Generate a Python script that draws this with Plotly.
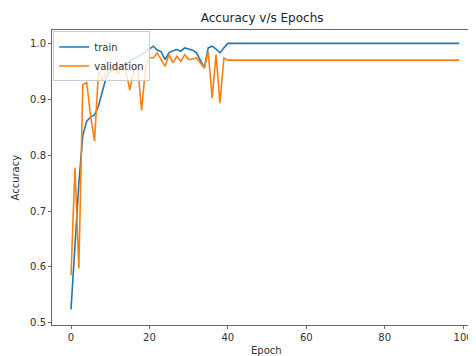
import plotly.graph_objects as go

epochs = list(range(100))

train_acc = [
    0.524, 0.64, 0.75, 0.835, 0.861, 0.868, 0.872, 0.888, 0.912, 0.94,
    0.95, 0.952, 0.955, 0.96, 0.963, 0.968, 0.972, 0.975, 0.98, 0.985,
    0.99, 0.995, 0.988, 0.985, 0.971, 0.983, 0.987, 0.989, 0.986, 0.992,
    0.99, 0.988, 0.983, 0.97, 0.956, 0.992, 0.995, 0.99, 0.983, 0.992,
] + [1.0] * 60

val_acc = [
    0.585, 0.778, 0.597, 0.926, 0.93, 0.87, 0.825, 0.95, 0.935, 0.95,
    0.955, 0.96, 0.945, 0.96, 0.95, 0.917, 0.95, 0.96, 0.88, 0.956,
    0.975, 0.974, 0.983, 0.97, 0.959, 0.98, 0.965, 0.977, 0.968, 0.98,
    0.971, 0.972, 0.974, 0.965, 0.956, 0.985, 0.902, 0.98, 0.893, 0.974,
] + [0.97] * 60

x_ticks = [0, 20, 40, 60, 80, 100]
y_ticks = [0.5, 0.6, 0.7, 0.8, 0.9, 1.0]

fig = go.Figure()
fig.add_trace(go.Scatter(x=epochs, y=train_acc, mode="lines", name="train",
                         line=dict(color="#1f77b4", width=1.6)))
fig.add_trace(go.Scatter(x=epochs, y=val_acc, mode="lines", name="validation",
                         line=dict(color="#ff7f0e", width=1.6)))

axis_common = dict(showline=True, linecolor="#666", linewidth=1, mirror=True,
                   showgrid=False, zeroline=False, ticks="outside", ticklen=3,
                   tickcolor="#666", automargin=False,
                   tickfont=dict(size=10, color="#333"))

# the page body has an 8px margin, so the figure is drawn 8px smaller
fig.update_layout(
    width=468, height=348,
    margin=dict(l=44, r=0, t=22, b=31),
    paper_bgcolor="white", plot_bgcolor="white",
    font=dict(family="DejaVu Sans", size=10, color="#333"),
    title=dict(text="Accuracy v/s Epochs", x=0.543, xanchor="center", y=0.971,
               yanchor="middle", font=dict(size=12, color="#222")),
    xaxis=dict(range=[-4.85, 103.3], tickvals=x_ticks, **axis_common),
    yaxis=dict(range=[0.496, 1.024], tickvals=y_ticks, tickformat=".1f",
               **axis_common),
    legend=dict(x=0.003, y=0.995, xanchor="left", yanchor="top",
                bgcolor="rgba(255,255,255,0.8)", bordercolor="#ccc", borderwidth=1,
                font=dict(size=10), tracegroupgap=0, itemwidth=30),
    annotations=[
        dict(text="Epoch", xref="paper", yref="paper", x=0.505, y=0,
             xanchor="center", yanchor="top", yshift=-18, showarrow=False,
             font=dict(size=10, color="#333")),
        dict(text="Accuracy", xref="paper", yref="paper", x=0, y=0.5,
             xanchor="center", yanchor="middle", xshift=-37, textangle=-90,
             showarrow=False, font=dict(size=10, color="#333")),
    ],
    showlegend=True,
)

fig.write_html("out.html")
